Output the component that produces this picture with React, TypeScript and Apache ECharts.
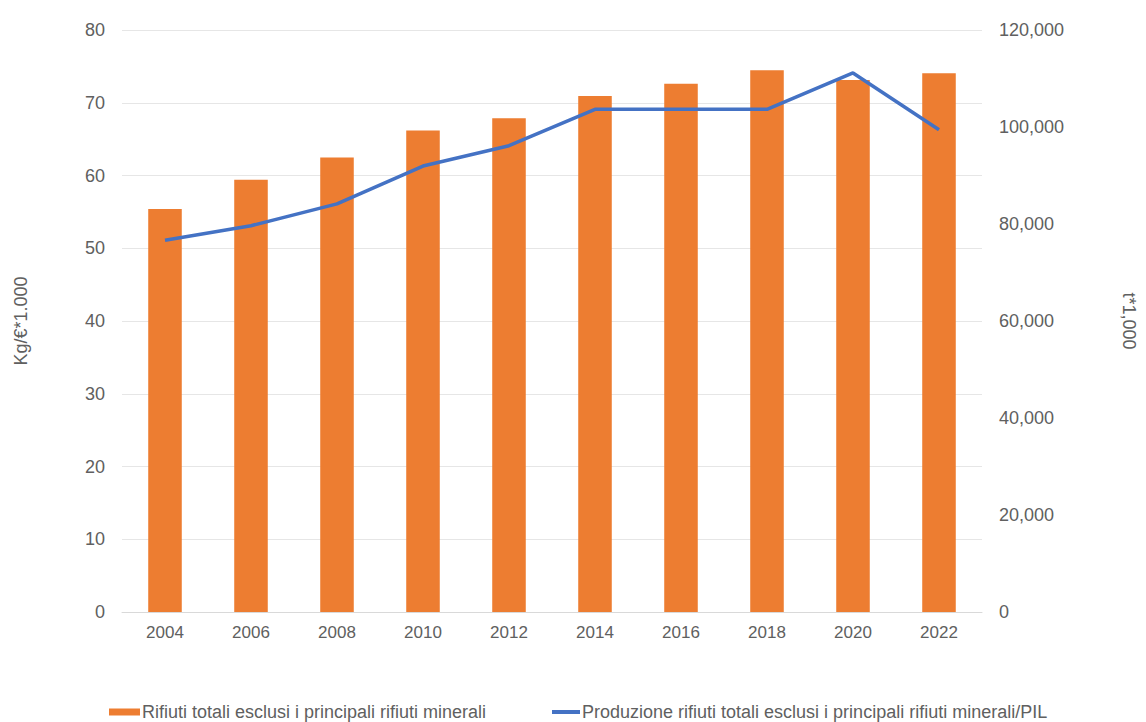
import React, { useEffect, useRef } from "react";
import * as echarts from "echarts";

const years = ["2004", "2006", "2008", "2010", "2012", "2014", "2016", "2018", "2020", "2022"];
// t*1,000 (right axis)
const rifiutiTotali = [83100, 89100, 93700, 99300, 101800, 106400, 108900, 111700, 109700, 111100];
// Kg/€*1.000 (left axis)
const produzionePil = [51.1, 53.1, 56.1, 61.3, 64.1, 69.1, 69.1, 69.1, 74.1, 66.3];

const barName = "Rifiuti totali esclusi i principali rifiuti minerali";
const lineName = "Produzione rifiuti totali esclusi i principali rifiuti minerali/PIL";

const FONT = "Liberation Sans, Arial, sans-serif";
const TXT = "#606060";

export default function App() {
  const ref = useRef<HTMLDivElement>(null);
  useEffect(() => {
    if (!ref.current) return;
    const chart = echarts.init(ref.current, undefined, { renderer: "svg" });
    chart.setOption({
      animation: false,
      backgroundColor: "#ffffff",
      textStyle: { fontFamily: FONT },
      grid: { left: 122, right: 159, top: 30, bottom: 110, containLabel: false },
      legend: [
        {
          data: [{ name: barName, icon: "rect" }],
          left: 104,
          top: 698,
          itemWidth: 31,
          itemHeight: 7,
          textStyle: { color: TXT, fontSize: 18, fontFamily: FONT, padding: [0, 0, 0, -3] },
        },
        {
          data: [{ name: lineName, icon: "rect" }],
          left: 547,
          top: 698,
          itemWidth: 28,
          itemHeight: 4,
          textStyle: { color: TXT, fontSize: 18, fontFamily: FONT, padding: [0, 0, 0, -3] },
        },
      ],
      xAxis: {
        type: "category",
        data: years,
        axisLine: { show: true, lineStyle: { color: "#d9d9d9", width: 1 } },
        axisTick: { show: false },
        axisLabel: { color: TXT, fontSize: 17, fontFamily: FONT, margin: 12 },
      },
      yAxis: [
        {
          type: "value",
          min: 0,
          max: 80,
          interval: 10,
          position: "left",
          name: "Kg/€*1.000",
          nameLocation: "middle",
          nameRotate: 90,
          nameGap: 92,
          nameTextStyle: { color: TXT, fontSize: 18, fontFamily: FONT },
          axisLine: { show: false },
          axisTick: { show: false },
          axisLabel: { color: TXT, fontSize: 18, fontFamily: FONT, margin: 17 },
          splitLine: { show: true, lineStyle: { color: "#e6e6e6", width: 1 } },
        },
        {
          type: "value",
          min: 0,
          max: 120000,
          interval: 20000,
          position: "right",
          name: "t*1,000",
          nameLocation: "middle",
          nameRotate: -90,
          nameGap: 138,
          nameTextStyle: { color: TXT, fontSize: 18, fontFamily: FONT },
          axisLine: { show: false },
          axisTick: { show: false },
          axisLabel: {
            color: TXT,
            fontSize: 18,
            fontFamily: FONT,
            margin: 17,
            formatter: (v: number) => v.toLocaleString("en-US"),
          },
          splitLine: { show: false },
        },
      ],
      series: [
        {
          name: barName,
          type: "bar",
          yAxisIndex: 1,
          data: rifiutiTotali,
          barWidth: "39%",
          itemStyle: { color: "#ED7D31" },
        },
        {
          name: lineName,
          type: "line",
          yAxisIndex: 0,
          data: produzionePil,
          symbol: "none",
          lineStyle: { color: "#4472C4", width: 3.5 },
          itemStyle: { color: "#4472C4" },
          z: 3,
        },
      ],
    });
    return () => chart.dispose();
  }, []);
  return <div ref={ref} style={{ width: 1146, height: 722, position: "absolute", left: 0, top: 0 }} />;
}
